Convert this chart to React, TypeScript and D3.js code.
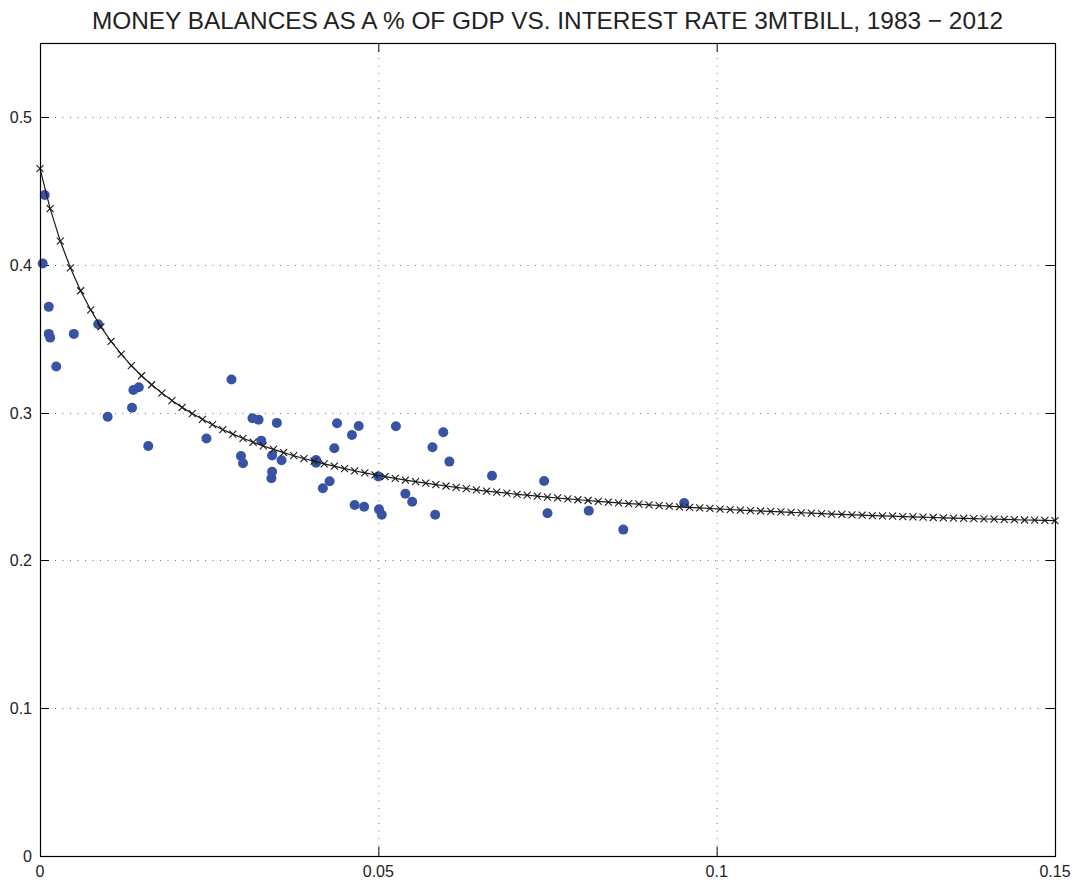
import React from "react";
import * as d3 from "d3";

// observed (interest rate, money balances / GDP) pairs
const RATE = [
  0.0007, 0.0004, 0.0013, 0.0013, 0.0015, 0.005, 0.0086, 0.0024, 0.0138, 0.0146,
  0.0136, 0.01, 0.016, 0.0283, 0.0246, 0.0314, 0.0323, 0.0327, 0.0297, 0.03,
  0.035, 0.0343, 0.0357, 0.0343, 0.0342, 0.0408, 0.0408, 0.0439, 0.0471, 0.0461,
  0.0435, 0.0428, 0.0418, 0.0465, 0.0479, 0.05, 0.0501, 0.0505, 0.0526, 0.054,
  0.055, 0.0596, 0.058, 0.0605, 0.0584, 0.0668, 0.0745, 0.075, 0.0811, 0.0862,
  0.0952,
];
const BALANCE = [
  0.4472, 0.4008, 0.3715, 0.3532, 0.3507, 0.3532, 0.3597, 0.3311, 0.3153, 0.3171,
  0.3033, 0.2972, 0.2774, 0.3223, 0.2824, 0.2961, 0.2952, 0.281, 0.2706, 0.2657,
  0.293, 0.2709, 0.2677, 0.26, 0.2555, 0.2679, 0.2661, 0.2928, 0.2909, 0.2848,
  0.2758, 0.2535, 0.2488, 0.2375, 0.2363, 0.2568, 0.2345, 0.2309, 0.2907, 0.2451,
  0.2397, 0.2867, 0.2765, 0.2668, 0.2309, 0.2572, 0.2537, 0.2319, 0.2336, 0.2208,
  0.2388,
];

// fitted curve, sampled every 0.0015 from 0 to 0.15
const CURVE_STEP = 0.0015;
const CURVE_Y = [
  0.465, 0.438, 0.416, 0.3978, 0.3824, 0.3694, 0.358, 0.3482, 0.3395, 0.3318,
  0.3249, 0.3188, 0.3132, 0.3081, 0.3035, 0.2993, 0.2954, 0.2918, 0.2885, 0.2854,
  0.2826, 0.2799, 0.2774, 0.2751, 0.2729, 0.2708, 0.2689, 0.2671, 0.2653, 0.2637,
  0.2621, 0.2606, 0.2592, 0.2579, 0.2567, 0.2555, 0.2543, 0.2533, 0.2523, 0.2513,
  0.2503, 0.2494, 0.2486, 0.2477, 0.2469, 0.2462, 0.2455, 0.2447, 0.2441, 0.2434,
  0.2428, 0.2422, 0.2416, 0.241, 0.2405, 0.2399, 0.2394, 0.2389, 0.2384, 0.238,
  0.2375, 0.2371, 0.2367, 0.2362, 0.2358, 0.2355, 0.2351, 0.2347, 0.2344, 0.234,
  0.2337, 0.2334, 0.2331, 0.2328, 0.2324, 0.2322, 0.2319, 0.2316, 0.2313, 0.2311,
  0.2308, 0.2306, 0.2303, 0.2301, 0.2299, 0.2296, 0.2294, 0.2292, 0.229, 0.2288,
  0.2286, 0.2284, 0.2282, 0.228, 0.2279, 0.2277, 0.2275, 0.2273, 0.2272, 0.227,
  0.2269,
];

const X_TICKS = [0, 0.05, 0.1, 0.15];
const X_TICK_LABELS = ["0", "0.05", "0.1", "0.15"];
const Y_TICKS = [0, 0.1, 0.2, 0.3, 0.4, 0.5];
const Y_TICK_LABELS = ["0", "0.1", "0.2", "0.3", "0.4", "0.5"];

const TITLE = "MONEY BALANCES AS A % OF GDP VS. INTEREST RATE 3MTBILL, 1983 \u2212 2012";

const W = 1081;
const H = 886;
const margin = { left: 40, right: 26, top: 43, bottom: 30 };
const FONT = "'Liberation Sans', Arial, Helvetica, sans-serif";

export default function App() {
  const x = d3
    .scaleLinear()
    .domain([0, 0.15])
    .range([margin.left, W - margin.right]);
  const y = d3
    .scaleLinear()
    .domain([0, 0.55])
    .range([H - margin.bottom, margin.top]);

  const curve = CURVE_Y.map((v, i) => [i * CURVE_STEP, v] as [number, number]);
  const line = d3
    .line<[number, number]>()
    .x((d) => x(d[0]))
    .y((d) => y(d[1]));

  const [x0, x1] = x.range();
  const [y0, y1] = y.range();
  const tickLen = 9;
  const m = 3.5; // half-size of the x markers

  return (
    <div style={{ position: "absolute", left: 0, top: 0 }}>
      <svg width={W} height={H} style={{ display: "block", background: "#fff" }}>
        <rect x={0} y={0} width={W} height={H} fill="#fff" />

        {/* grid */}
        <g stroke="#777" strokeWidth={1} strokeDasharray="1,6.5">
          {X_TICKS.filter((t) => t > 0 && t < 0.15).map((t) => (
            <line key={"gx" + t} x1={x(t) + 0.5} x2={x(t) + 0.5} y1={y1} y2={y0} />
          ))}
          {Y_TICKS.filter((t) => t > 0).map((t) => (
            <line key={"gy" + t} x1={x0} x2={x1} y1={Math.round(y(t)) + 0.5} y2={Math.round(y(t)) + 0.5} />
          ))}
        </g>

        {/* ticks on all four sides */}
        <g stroke="#000" strokeWidth={1}>
          {X_TICKS.map((t) => (
            <g key={"tx" + t}>
              <line x1={x(t) + 0.5} x2={x(t) + 0.5} y1={y0} y2={y0 - tickLen} />
              <line x1={x(t) + 0.5} x2={x(t) + 0.5} y1={y1} y2={y1 + tickLen} />
            </g>
          ))}
          {Y_TICKS.map((t) => (
            <g key={"ty" + t}>
              <line x1={x0} x2={x0 + tickLen} y1={Math.round(y(t)) + 0.5} y2={Math.round(y(t)) + 0.5} />
              <line x1={x1} x2={x1 - tickLen} y1={Math.round(y(t)) + 0.5} y2={Math.round(y(t)) + 0.5} />
            </g>
          ))}
        </g>

        {/* observations */}
        <g fill="#3953a4">
          {RATE.map((r, i) => (
            <circle key={"p" + i} cx={x(r)} cy={y(BALANCE[i])} r={5} />
          ))}
        </g>

        {/* fitted curve with x markers */}
        <path d={line(curve) ?? ""} fill="none" stroke="#1a1a1a" strokeWidth={1.2} />
        <g stroke="#1a1a1a" strokeWidth={1.1}>
          {curve.map((d, i) => {
            const cx = x(d[0]);
            const cy = y(d[1]);
            return (
              <g key={"m" + i}>
                <line x1={cx - m} y1={cy - m} x2={cx + m} y2={cy + m} />
                <line x1={cx - m} y1={cy + m} x2={cx + m} y2={cy - m} />
              </g>
            );
          })}
        </g>

        {/* axes box */}
        <rect
          x={x0 + 0.5}
          y={y1 + 0.5}
          width={x1 - x0}
          height={y0 - y1}
          fill="none"
          stroke="#000"
          strokeWidth={1.2}
        />

        {/* tick labels */}
        <g fontFamily={FONT} fontSize={16} fill="#222">
          {X_TICKS.map((t, i) => (
            <text key={"lx" + t} x={x(t)} y={y0 + 21} textAnchor="middle">
              {X_TICK_LABELS[i]}
            </text>
          ))}
          {Y_TICKS.map((t, i) => (
            <text key={"ly" + t} x={x0 - 8} y={y(t) + 6} textAnchor="end">
              {Y_TICK_LABELS[i]}
            </text>
          ))}
        </g>

        <text
          x={(x0 + x1) / 2}
          y={29}
          textAnchor="middle"
          fontFamily={FONT}
          fontSize={24.4}
          fill="#222"
        >
          {TITLE}
        </text>
      </svg>
    </div>
  );
}
